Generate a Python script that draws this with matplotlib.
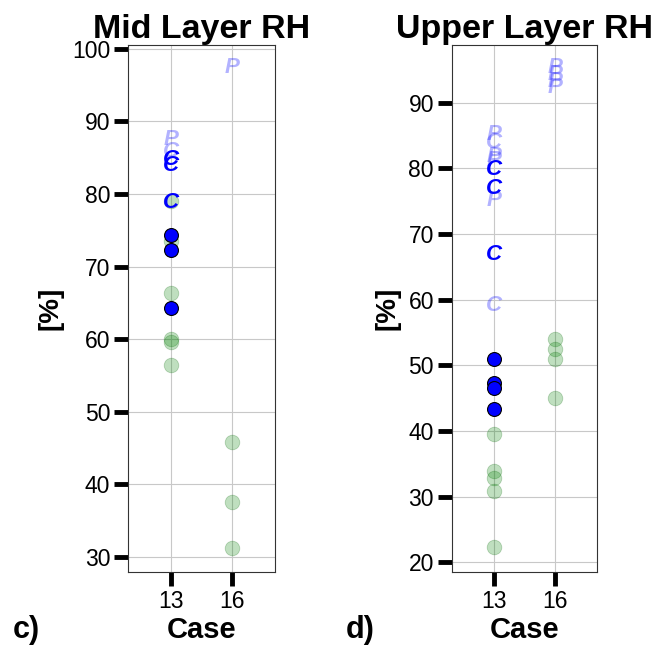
import matplotlib
matplotlib.use("Agg")
import matplotlib.pyplot as plt

plt.rcParams["font.family"] = ["Liberation Sans", "DejaVu Sans"]

cases = [13, 16]
case_labels = ["13", "16"]

# ---- Mid layer RH (panel c) ----
mid_green_13 = [79.1, 73.6, 66.4, 60.1, 59.6, 56.5]
mid_green_16 = [45.8, 37.6, 31.3]
mid_blue_13 = [74.3, 72.3, 64.3]
mid_c_dark_13 = [84.8, 84.0, 78.9]
mid_c_light_13 = [85.8]
mid_p_light_13 = [87.5]
mid_p_light_16 = [97.4]

# ---- Upper layer RH (panel d) ----
up_green_13 = [39.5, 34.0, 32.8, 30.9, 22.3]
up_green_16 = [54.0, 52.5, 50.9, 45.0]
up_blue_13 = [51.0, 47.3, 46.6, 43.4]
up_c_dark_13 = [79.8, 77.0, 66.9]
up_c_light_13 = [83.9, 59.1]
up_p_light_13 = [85.1, 81.8, 81.2, 75.1]
up_p_light_16 = [95.3, 94.3, 93.2, 92.3]


def draw_panel(ax, green, blue, c_dark, c_light, p_light, title, ylim, yticks):
    # green circles at both cases
    for i, vals in enumerate(green):
        ax.scatter([i] * len(vals), vals, s=110, color="green", alpha=0.25,
                   edgecolors="darkgreen", linewidths=0.6, zorder=3)
    ax.scatter([0] * len(blue), blue, s=100, color="blue", edgecolors="black",
               linewidths=0.8, zorder=4)
    for i, vals in enumerate(p_light):
        for v in vals:
            ax.text(i, v, "P", color="blue", alpha=0.3, fontsize=16,
                    fontstyle="italic", fontweight="bold",
                    ha="center", va="center", zorder=5)
    for v in c_light:
        ax.text(0, v, "C", color="blue", alpha=0.3, fontsize=16,
                fontstyle="italic", fontweight="bold",
                ha="center", va="center", zorder=5)
    for v in c_dark:
        ax.text(0, v, "C", color="blue", fontsize=16,
                fontstyle="italic", fontweight="bold",
                ha="center", va="center", zorder=6)

    ax.set_xlim(-0.7, 1.7)
    ax.set_ylim(*ylim)
    ax.set_xticks(range(len(cases)))
    ax.set_xticklabels(case_labels)
    ax.set_yticks(yticks)
    ax.grid(True, color="#c8c8c8", linewidth=0.8, zorder=0)
    ax.set_axisbelow(True)
    ax.tick_params(direction="out", length=10, width=3.5, labelsize=16.5, pad=3)
    for sp in ax.spines.values():
        sp.set_linewidth(0.8)
        sp.set_color("#333333")
    ax.set_title(title, fontsize=24.5, fontweight="bold", pad=5)
    ax.set_xlabel("Case", fontsize=21, fontweight="bold", labelpad=2)
    ax.set_ylabel("[%]", fontsize=20, fontweight="bold", labelpad=6)


fig = plt.figure(figsize=(6.55, 6.5), dpi=100)
ax1 = fig.add_axes([0.196, 0.1195, 0.224, 0.8115])
ax2 = fig.add_axes([0.69, 0.1195, 0.222, 0.8115])

draw_panel(ax1, [mid_green_13, mid_green_16], mid_blue_13, mid_c_dark_13,
           mid_c_light_13, [mid_p_light_13, mid_p_light_16],
           "Mid Layer RH", (27.9, 100.55), range(30, 101, 10))
draw_panel(ax2, [up_green_13, up_green_16], up_blue_13, up_c_dark_13,
           up_c_light_13, [up_p_light_13, up_p_light_16],
           "Upper Layer RH", (18.5, 98.8), range(20, 91, 10))

fig.text(0.02, 0.031, "c)", fontsize=22, fontweight="bold", va="center")
fig.text(0.528, 0.031, "d)", fontsize=22, fontweight="bold", va="center")

fig.savefig("out.png", dpi=100)
